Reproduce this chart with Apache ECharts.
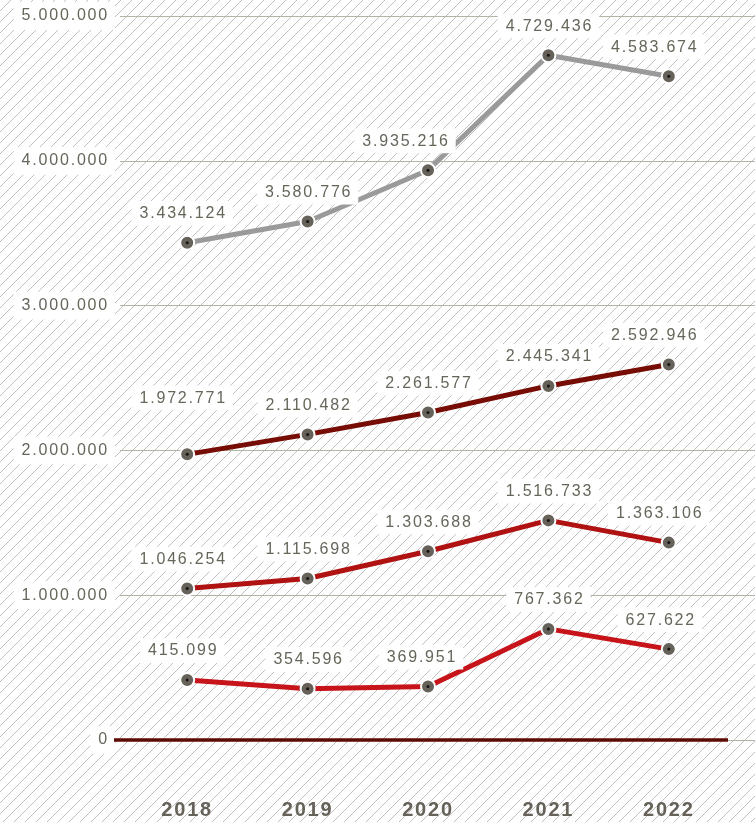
<!DOCTYPE html>
<html><head><meta charset="utf-8">
<script src="https://cdn.jsdelivr.net/npm/echarts@6/dist/echarts.min.js"></script>
<style>html,body{margin:0;padding:0;background:#fff}#c{width:755px;height:822px}</style>
</head><body><div id="c"></div>
<script>
const years = ['2018','2019','2020','2021','2022'];
const yTicks = [0,1000000,2000000,3000000,4000000,5000000];
const serieGray = [3434124,3580776,3935216,4729436,4583674];
const serieDark = [1972771,2110482,2261577,2445341,2592946];
const serieMid = [1046254,1115698,1303688,1516733,1363106];
const serieRed = [415099,354596,369951,767362,627622];

const fmt = v => String(v).replace(/\B(?=(\d{3})+(?!\d))/g,'.');

// tracked (letter-spaced) text like the reference
(function(){
  const P = CanvasRenderingContext2D.prototype;
  if (!('letterSpacing' in P)) return;
  const of = P.fillText, om = P.measureText;
  P.fillText = function(){ this.letterSpacing = '1.8px'; return of.apply(this, arguments); };
  P.measureText = function(){ this.letterSpacing = '1.8px'; return om.apply(this, arguments); };
})();

// hatch pattern
const S = 11;
const tile = document.createElement('canvas');
tile.width = S; tile.height = S;
const tc = tile.getContext('2d');
tc.strokeStyle = '#b9b9b9'; tc.lineWidth = 0.9;
[[-1,S+1,S+1,-1],[-1,1,1,-1],[S-1,S+1,S+1,S-1]].forEach(l=>{
  tc.beginPath(); tc.moveTo(l[0],l[1]); tc.lineTo(l[2],l[3]); tc.stroke();
});

const chart = echarts.init(document.getElementById('c'), null, {renderer:'canvas'});
const TOP = 16, BOTTOM = 82;
const FONT = 'Liberation Sans, Arial, sans-serif';
const labelBase = {show:true, position:'top', distance:9, color:'#66665a', fontSize:16,
  fontFamily:FONT, backgroundColor:'#fff', padding:[4,6,3,8],
  formatter: p => fmt(p.value)};

function mkSeries(name, data, color, offsets){
  return {
    name, type:'line', xAxisIndex:1, yAxisIndex:1,
    data: data.map((v,i)=>({value:v, label:{offset:offsets[i]||[0,0]}})),
    lineStyle:{color, width:5},
    itemStyle:{color:'#66625a', borderColor:'#fff', borderWidth:2},
    symbol:'circle', symbolSize:14, showAllSymbol:true,
    label: labelBase, z:3,
    emphasis:{disabled:true}
  };
}
function dots(data){
  return {type:'scatter', xAxisIndex:1, yAxisIndex:1, data, symbolSize:3,
    itemStyle:{color:'#000'}, z:5, silent:true};
}

chart.setOption({
  animation:false,
  graphic:[{type:'rect', z:-10, silent:true, shape:{x:0,y:0,width:755,height:822},
    style:{fill:{image:tile, repeat:'repeat'}}}],
  grid:[
    {left:120, right:0, top:TOP, bottom:BOTTOM},
    {left:127, right:26, top:TOP, bottom:BOTTOM}
  ],
  xAxis:[
    {gridIndex:0, type:'category', data:years, show:false},
    {gridIndex:1, type:'category', data:years, boundaryGap:true,
      axisLine:{show:false}, axisTick:{show:false},
      axisLabel:{color:'#66625a', fontSize:20, fontWeight:'bold', margin:60, fontFamily:FONT}}
  ],
  yAxis:[
    {gridIndex:0, type:'value', min:0, max:5000000, interval:1000000,
      axisLine:{show:false}, axisTick:{show:false},
      splitLine:{show:true, lineStyle:{color:'#b5b2a6', width:1}},
      axisLabel:{color:'#66665a', fontSize:16, margin:5, fontFamily:FONT,
        backgroundColor:'#fff', padding:[5,6,5,8], formatter:v=>fmt(v)}},
    {gridIndex:1, type:'value', min:0, max:5000000, interval:1000000, show:false, splitLine:{show:false}}
  ],
  series:[
    mkSeries('gray', serieGray, '#9a9a9a', [[-5,0],[0,0],[-23,0],[0,0],[-15,0]]),
    mkSeries('dark', serieDark, '#760c03', [[-5,-27],[0,0],[0,0],[0,0],[-15,0]]),
    mkSeries('mid', serieMid, '#b01212', [[-5,0],[0,0],[0,0],[0,0],[-10,0]]),
    mkSeries('red', serieRed, '#c6141a', [[-5,0],[0,0],[-7,0],[0,0],[-9,0]]),
    {type:'line', xAxisIndex:0, yAxisIndex:0, data:[], z:4,
      markLine:{silent:true, symbol:'none', label:{show:false},
        lineStyle:{color:'#5e0a05', width:3.5, type:'solid'},
        data:[[{coord:[0,0], x:114}, {coord:[0,0], x:728}]]}},
    dots(serieGray.map((v,i)=>[i,v])),
    dots(serieDark.map((v,i)=>[i,v])),
    dots(serieMid.map((v,i)=>[i,v])),
    dots(serieRed.map((v,i)=>[i,v]))
  ]
});
</script></body></html>
